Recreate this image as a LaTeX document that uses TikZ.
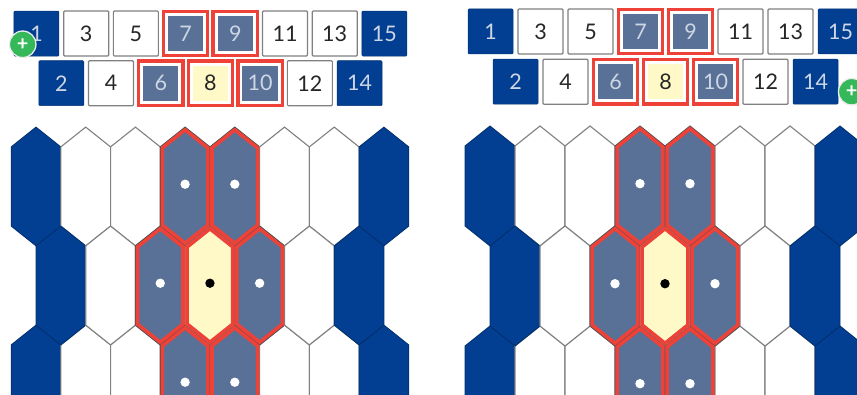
\documentclass[tikz,border=0pt]{standalone}
\usepackage{fontspec}
\setmainfont{Lato}
\definecolor{DeepBlue}{RGB}{2,63,146}
\definecolor{SlateBlue}{RGB}{89,113,150}
\definecolor{PaleYellow}{RGB}{255,249,200}
\definecolor{AlertRed}{RGB}{238,66,56}
\definecolor{EdgeGray}{RGB}{128,128,128}
\definecolor{PlusGreen}{RGB}{52,184,90}
\definecolor{SoftText}{RGB}{205,214,228}
\begin{document}
\begin{tikzpicture}[x=1pt,y=-1pt,
    hexedge/.style={insert path={(-25,-40) -- (0,-60) -- (25,-40) -- (25,40) -- (0,60) -- (-25,40) -- cycle}},
    hexinner/.style={insert path={(-22.9,-39) -- (0,-57.3) -- (22.9,-39) -- (22.9,39) -- (0,57.3) -- (-22.9,39) -- cycle}},
    whitecell/.style={draw=EdgeGray,fill=white,line width=1.1pt},
    bluecell/.style={draw=DeepBlue!75!black,fill=DeepBlue,line width=0.8pt},
    slatecell/.style={draw=black!70,fill=SlateBlue,line width=1pt},
    sunnycell/.style={draw=black!60,fill=PaleYellow,line width=1pt},
    redline/.style={draw=AlertRed,line width=3.6pt,line join=miter},
    basebox/.style={minimum size=45pt,inner sep=0pt,rounded corners=1pt,
                    font=\fontsize{21.5}{23}\selectfont},
    whitebox/.style={basebox,draw=EdgeGray,fill=white,line width=1.2pt,text=black!85},
    bluebox/.style={basebox,draw=DeepBlue!80!black,fill=DeepBlue,line width=0.5pt,text=SoftText},
    ringbox/.style={minimum size=44.3pt,inner sep=0pt,draw=AlertRed,line width=3.4pt,fill=white,
                    font=\fontsize{21.5}{23}\selectfont},
    slatebox/.style={ringbox,text=SoftText,path picture={
        \fill[SlateBlue] (path picture bounding box.center) +(-17.7pt,-17.7pt) rectangle +(17.7pt,17.7pt);}},
    sunnybox/.style={ringbox,text=black!85,path picture={
        \fill[PaleYellow] (path picture bounding box.center) +(-17.7pt,-17.7pt) rectangle +(17.7pt,17.7pt);}},
    plusdot/.style={circle,draw=white!92!black,fill=PlusGreen,line width=1.3pt,minimum size=26.5pt,
                    inner sep=0pt,text=white,font=\fontsize{20}{20}\selectfont\bfseries}]

    \clip (0,0) rectangle (857,395);

    % Two panels, same layout
    \foreach \p/\ox/\oy/\fx/\fy/\px/\py in {L/36/186.5/0.994/0.99/22.7/44.3, R/490/186/1/1/851.7/91.7}{
      \begin{scope}[shift={(\ox,\oy)},xscale=\fx,yscale=\fy]

        % Number strip
        \foreach \i/\rowy/\kind in {1/-154.5/bluebox, 3/-154.5/whitebox, 5/-154.5/whitebox, 7/-154.5/slatebox,
            9/-154.5/slatebox, 11/-154.5/whitebox, 13/-154.5/whitebox, 15/-154.5/bluebox,
            2/-104.3/bluebox, 4/-104.3/whitebox, 6/-104.3/slatebox, 8/-104.3/sunnybox,
            10/-104.3/slatebox, 12/-104.3/whitebox, 14/-104.3/bluebox}{
          \node[\kind] (\p box\i) at ({(\i-1)*25+0.5},\rowy) {\i};
        }

        % Odd columns
        \foreach \cy in {0,200}{
          \foreach \k/\kind in {0/bluecell, 1/whitecell, 2/whitecell, 3/slatecell,
              4/slatecell, 5/whitecell, 6/whitecell, 7/bluecell}{
            \draw[shift={({\k*50},\cy)},\kind,hexedge];
          }
        }
        % Even columns
        \foreach \k/\kind in {0/bluecell, 1/whitecell, 2/slatecell, 3/sunnycell,
            4/slatecell, 5/whitecell, 6/bluecell}{
          \draw[shift={({\k*50+25},100)},\kind,hexedge];
        }

        % Red borders and dots
        \foreach \cx/\cy/\dotc in {150/0/white, 200/0/white, 125/100/white, 225/100/white,
            150/200/white, 200/200/white, 175/100/black}{
          \draw[shift={(\cx,\cy)},redline,hexinner];
          \fill[\dotc] ({\cx},{\cy-2.3}) circle[radius=4.7pt];
        }
      \end{scope}

      \node[plusdot] (\p plus) at (\px,\py) {+};
    }
  \end{tikzpicture}
\end{document}
